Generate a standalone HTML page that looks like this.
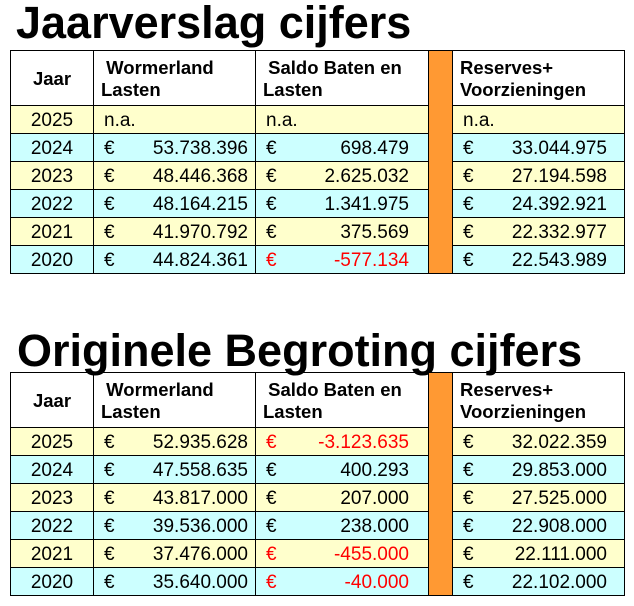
<!DOCTYPE html>
<html><head><meta charset="utf-8"><style>
body{margin:0;width:634px;height:606px;background:#fff;position:relative;overflow:hidden;font-family:"Liberation Sans",Arial,sans-serif;color:#000}
.t{position:absolute;font-weight:bold;font-size:45px;line-height:45px;white-space:nowrap}
table{position:absolute;left:10px;border-collapse:collapse;table-layout:fixed;font-size:19px}
td{border:1px solid #000;padding:0;height:28px;line-height:22px;white-space:nowrap;overflow:hidden;padding-top:2px;box-sizing:border-box}
tr.h td{height:55px;font-weight:bold;font-size:18.5px;line-height:22px;vertical-align:middle}
.y{background:#FFFFCC}.c{background:#CCFFFF}
.o{background:#FF9933}
.yr{text-align:center}
.m{padding:2px 7px 0 10px}
.m2{padding-right:19px}
.m3{padding-right:17px}
.m span{float:right}
.r{color:#f00}
.hd{padding-left:7px}
</style></head><body>
<div class="t" style="left:16px;top:0px">Jaarverslag cijfers</div>
<table style="top:50px;width:614px">
<colgroup><col style="width:83px"><col style="width:162px"><col style="width:173px"><col style="width:24px"><col style="width:172px"></colgroup>
<tr class="h"><td style="text-align:center">Jaar</td><td class="hd">&nbsp;Wormerland<br>Lasten</td><td class="hd">&nbsp;Saldo Baten en<br>Lasten</td><td class="o" rowspan="7"></td><td class="hd">Reserves+<br>Voorzieningen</td></tr>
<tr class="y"><td class="yr">2025</td><td class="m">n.a.</td><td class="m m2">n.a.</td><td class="m m3">n.a.</td></tr>
<tr class="c"><td class="yr">2024</td><td class="m">€<span>53.738.396</span></td><td class="m m2">€<span>698.479</span></td><td class="m m3">€<span>33.044.975</span></td></tr>
<tr class="y"><td class="yr">2023</td><td class="m">€<span>48.446.368</span></td><td class="m m2">€<span>2.625.032</span></td><td class="m m3">€<span>27.194.598</span></td></tr>
<tr class="c"><td class="yr">2022</td><td class="m">€<span>48.164.215</span></td><td class="m m2">€<span>1.341.975</span></td><td class="m m3">€<span>24.392.921</span></td></tr>
<tr class="y"><td class="yr">2021</td><td class="m">€<span>41.970.792</span></td><td class="m m2">€<span>375.569</span></td><td class="m m3">€<span>22.332.977</span></td></tr>
<tr class="c"><td class="yr">2020</td><td class="m">€<span>44.824.361</span></td><td class="m m2 r">€<span>-577.134</span></td><td class="m m3">€<span>22.543.989</span></td></tr>
</table>
<div class="t" style="left:17px;top:328px">Originele Begroting cijfers</div>
<table style="top:372px;width:614px">
<colgroup><col style="width:83px"><col style="width:162px"><col style="width:173px"><col style="width:24px"><col style="width:172px"></colgroup>
<tr class="h"><td style="text-align:center">Jaar</td><td class="hd">&nbsp;Wormerland<br>Lasten</td><td class="hd">&nbsp;Saldo Baten en<br>Lasten</td><td class="o" rowspan="7"></td><td class="hd">Reserves+<br>Voorzieningen</td></tr>
<tr class="y"><td class="yr">2025</td><td class="m">€<span>52.935.628</span></td><td class="m m2 r">€<span>-3.123.635</span></td><td class="m m3">€<span>32.022.359</span></td></tr>
<tr class="c"><td class="yr">2024</td><td class="m">€<span>47.558.635</span></td><td class="m m2">€<span>400.293</span></td><td class="m m3">€<span>29.853.000</span></td></tr>
<tr class="y"><td class="yr">2023</td><td class="m">€<span>43.817.000</span></td><td class="m m2">€<span>207.000</span></td><td class="m m3">€<span>27.525.000</span></td></tr>
<tr class="c"><td class="yr">2022</td><td class="m">€<span>39.536.000</span></td><td class="m m2">€<span>238.000</span></td><td class="m m3">€<span>22.908.000</span></td></tr>
<tr class="y"><td class="yr">2021</td><td class="m">€<span>37.476.000</span></td><td class="m m2 r">€<span>-455.000</span></td><td class="m m3">€<span>22.111.000</span></td></tr>
<tr class="c"><td class="yr">2020</td><td class="m">€<span>35.640.000</span></td><td class="m m2 r">€<span>-40.000</span></td><td class="m m3">€<span>22.102.000</span></td></tr>
</table>
</body></html>
